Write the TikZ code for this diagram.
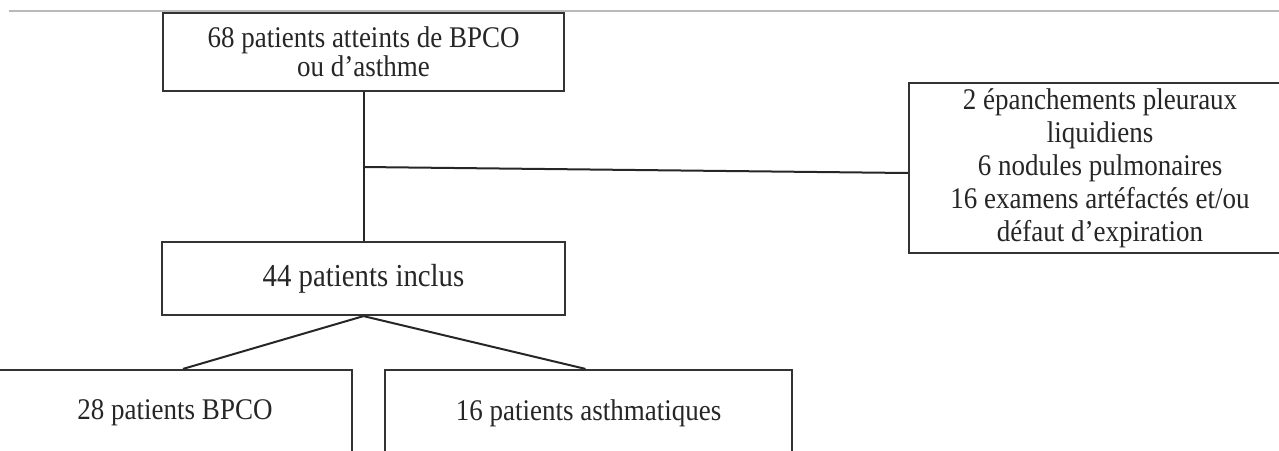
\documentclass[tikz,border=0pt]{standalone}
\usepackage{fontspec}
\setmainfont{Liberation Serif}[FakeStretch=0.9]
\usepackage{tikz}
\tikzstyle{box}=[draw=black!80,line width=2.2pt,inner sep=0pt,align=center,text=black!85,font=\fontsize{30}{29}\selectfont]
\tikzstyle{link}=[draw=black!85,line width=2pt]

\begin{document}
\begin{tikzpicture}[x=1pt,y=-1pt]
          \useasboundingbox (0,0) rectangle (1279,450);
          \draw[gray!55,line width=1.5pt] (9,11) -- (1279,11);
          \node[box,minimum width=401pt,minimum height=78pt] (tous) at (363.5,52) {68 patients atteints de BPCO\\ou d'asthme};
          \node[box,minimum width=403pt,minimum height=73pt,font=\fontsize{32}{32}\selectfont] (inclus) at (363.5,278.5) {44 patients inclus};
          \node[box,minimum width=382pt,minimum height=170pt,font=\fontsize{30}{33}\selectfont] (exclus) at (1100,168) {2 épanchements pleuraux\\liquidiens\\6 nodules pulmonaires\\16 examens artéfactés et/ou\\défaut d'expiration};
          \node[box,minimum width=354pt,minimum height=86pt] (bpco) at (175,413) {28 patients BPCO};
          \node[box,minimum width=407pt,minimum height=86pt] (asthme) at (588.5,413) {16 patients asthmatiques};
          \coordinate (jonction) at (363.5,167);
          \draw[link] (tous) -- (inclus);
          \draw[link] (jonction) -- ([yshift=-5pt]exclus.west);
          \draw[link] (inclus.south) -- ([xshift=8pt]bpco.north);
          \draw[link] (inclus.south) -- ([xshift=-3pt]asthme.north);
        \end{tikzpicture}
\end{document}
